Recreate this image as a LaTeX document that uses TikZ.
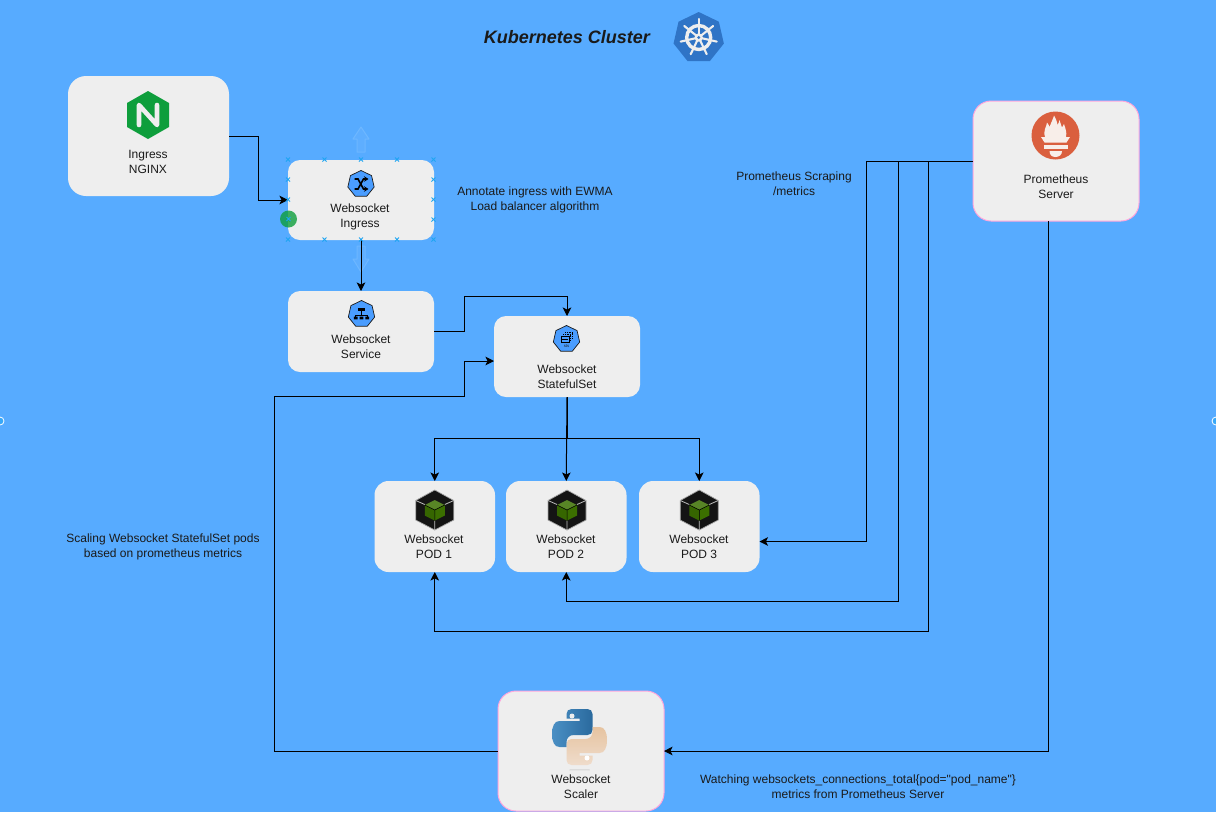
\documentclass[tikz,border=0pt]{standalone}
\usepackage{fontspec}
\setmainfont{Liberation Sans}
\newfontfamily\plainf{Liberation Sans}
\usetikzlibrary{arrows.meta,shapes.geometric,calc}
\definecolor{bgc}{HTML}{57ABFF}
\definecolor{boxc}{HTML}{EEEEEE}
\definecolor{pinkc}{HTML}{FFA6DC}
\definecolor{txtc}{HTML}{1A1A1A}
\definecolor{badge}{HTML}{4A9DFF}
\definecolor{k8sc}{HTML}{2F74C6}
\definecolor{ngx}{HTML}{0E9E3C}
\definecolor{promc}{HTML}{DA5F3E}
\definecolor{promw}{HTML}{F8EEE9}
\definecolor{podg}{HTML}{3B6F00}
\definecolor{handle}{HTML}{1FA5F2}
\definecolor{ghostc}{HTML}{6DB7FF}
\definecolor{pyblueA}{HTML}{4A8FC4}
\definecolor{pyblueB}{HTML}{2A6A9E}
\definecolor{pytanA}{HTML}{E6C3A0}
\definecolor{pytanB}{HTML}{EFDCCB}
\tikzset{
 x=1pt,y=-1pt,
 card/.style={fill=boxc,draw=none,rounded corners=#1,inner sep=0pt,outer sep=0pt},
 card/.default=12pt,
 pinkcard/.style={card=18pt,draw=pinkc,line width=1pt},
 lbl/.style={text=txtc,align=center,inner sep=0pt,font=\fontsize{12}{15}\selectfont},
 conn/.style={draw=black,line width=1pt,-{Stealth[length=8.5pt,width=8.5pt,inset=2pt]}},
 kbadge/.style={regular polygon,regular polygon sides=7,minimum size=27pt,inner sep=0pt,fill=badge,draw=txtc,line width=0.7pt},
 handlemark/.style={draw=handle,line width=0.8pt},
 ghost/.style={fill=bgc!96!white,draw=ghostc,line width=1pt,line join=round},
}
\newcommand{\xmark}[2]{\draw[handlemark] (#1-2,#2-2)--(#1+2,#2+2) (#1-2,#2+2)--(#1+2,#2-2);}
\newcommand{\podicon}[1]{%
 \begin{scope}[shift={(#1,510)}]
 \fill[fill=black!92,draw=black!35,line width=0.7pt] (0,-20)--(19,-9.5)--(19,10)--(0,20)--(-19,10)--(-19,-9.5)--cycle;
 \draw[white!75!black,line width=0.8pt] (-19,-9.5)--(-10,-5.5) (19,-9.5)--(10,-5.5) (0,20)--(0,10.5);
 \fill[podg!85!white] (0,-10)--(10,-5)--(0,0)--(-10,-5)--cycle;
 \fill[podg!92!black] (-10,-5)--(0,0)--(0,10.5)--(-10,5.5)--cycle;
 \fill[podg] (10,-5)--(0,0)--(0,10.5)--(10,5.5)--cycle;
 \draw[black,line width=0.5pt] (-10,-5)--(0,0)--(10,-5) (0,0)--(0,10.5);
 \end{scope}}
\begin{document}
\begin{tikzpicture}
\useasboundingbox (0,0) rectangle (1216,812);
\fill[bgc] (0,0) rectangle (1216,812);
\draw[white,line width=0.8pt,fill=handle!55!bgc] (0,421) circle (4) (1216,421) circle (4);

% ghost arrows
\draw[ghost] (357,152)--(357,139)--(353,139)--(361,127)--(369,139)--(365,139)--(365,152)--cycle;
\draw[ghost] (357,246)--(357,259)--(353,259)--(361,272)--(369,259)--(365,259)--(365,246)--cycle;

% boxes
\node[card=18pt,minimum width=161pt,minimum height=120pt] (nginx) at (148.5,136) {};
\node[card,minimum width=146pt,minimum height=80pt] (ingress) at (361,200) {};
\node[card,minimum width=146pt,minimum height=81pt] (service) at (361,331.5) {};
\node[card,minimum width=146pt,minimum height=81pt] (sts) at (567,356.5) {};
\node[card=14pt,minimum width=120.5pt,minimum height=91pt] (pod1) at (434.75,526.5) {};
\node[card=14pt,minimum width=120.5pt,minimum height=91pt] (pod2) at (566.25,526.5) {};
\node[card=14pt,minimum width=120.5pt,minimum height=91pt] (pod3) at (699.25,526.5) {};
\node[pinkcard,minimum width=166pt,minimum height=120pt] (prom) at (1056,161) {};
\node[pinkcard,minimum width=166pt,minimum height=120pt] (scaler) at (581,751) {};

% anchor points off the box centres
\coordinate (stsin) at (494,361);
\coordinate (pod3in) at (759.5,541.5);
\coordinate (promout) at (1048.5,221);
\coordinate (v1) at (866.5,161);
\coordinate (v2) at (898.5,161);
\coordinate (v3) at (928.5,161);

% connectors
\draw[conn] (nginx.east) -- (258.5,136) -- (258.5,200) -- (ingress.west);
\draw[conn] (ingress.south) -- (service.north);
\draw[conn] (service.east) -- (464,331.5) -- (464,296) -- (567,296) -- (sts.north);
\draw[conn] (sts.south) -- (567,438.5) -- (pod1.north |- 0,438.5) -- (pod1.north);
\draw[conn] (sts.south) -- (pod2.north);
\draw[conn] (sts.south) -- (567,438.5) -- (pod3.north |- 0,438.5) -- (pod3.north);
\draw[conn] (prom.west) -- (v1) -- (866.5,541.5) -- (pod3in);
\draw[conn] (prom.west) -- (v2) -- (898.5,601) -- (566.25,601) -- (pod2.south);
\draw[conn] (prom.west) -- (v3) -- (928.5,631) -- (434.75,631) -- (pod1.south);
\draw[conn] (promout) -- (1048.5,751) -- (scaler.east);
\draw[conn] (scaler.west) -- (274.5,751) -- (274.5,396.5) -- (464,396.5) -- (464,361) -- (stsin);

% ingress selection handles
\foreach \px in {288,324.5,361,397,433.5}{\xmark{\px}{159.5}\xmark{\px}{239.5}}
\foreach \py in {179.5,199.5,219.5}{\xmark{288}{\py}\xmark{433.5}{\py}}
\fill[ngx,opacity=0.8] (288.5,219) circle (8.5);
\xmark{288.5}{219}

% nginx icon
\fill[ngx] (148,91)--(169,103)--(169,127)--(148,139)--(127,127)--(127,103)--cycle;
\draw[boxc,line width=4.6pt,line cap=round,line join=round] (139,125)--(139,105)--(157,125)--(157,105);

% kubernetes logo
\node[regular polygon,regular polygon sides=7,minimum size=51.6pt,inner sep=0pt,fill=k8sc] (k8slogo) at (698.7,37.8) {};
\begin{scope}[shift={(698.7,37.5)}]
 \draw[boxc,line width=3.4pt] (0,0) circle (12);
 \foreach \a in {-90,-38.57,12.86,64.29,115.71,167.14,218.57}{
  \draw[boxc,line width=2.1pt,line cap=round] (0,0)--(\a:18.5);
 }
 \fill[boxc] (0,0) circle (4.2);
 \fill[k8sc] (0,0) circle (1.7);
\end{scope}

% small badges
\node[kbadge] (iconingress) at (361,184) {};
\draw[black,line width=1.6pt,-{Stealth[length=4.5pt,width=5.5pt]}] (354.5,179)--(358,179)--(363.5,189)--(368.5,189);
\draw[black,line width=1.6pt,-{Stealth[length=4.5pt,width=5.5pt]}] (354.5,189)--(358,189)--(363.5,179)--(368.5,179);

\node[kbadge] (iconservice) at (361.5,314) {};
\fill[black] (358,308.3) rectangle (365,311);
\draw[black,line width=0.8pt] (361.5,311)--(361.5,316) (355.5,318)--(355.5,315)--(367.5,315)--(367.5,318);
\fill[black] (353.8,316.7) rectangle (357.6,319.4) (359.7,316.7) rectangle (363.3,319.4) (365.4,316.7) rectangle (369.2,319.4);

\node[kbadge] (iconsts) at (566.5,339) {};
\draw[black,line width=0.7pt] (561,336.5) rectangle (569,342);
\draw[black,line width=0.6pt] (562,339)--(568,339);
\draw[black,line width=0.6pt,dash pattern=on 1pt off 0.8pt] (563,334.5)--(570.5,334.5)--(570.5,340) (565,332.5)--(572.5,332.5)--(572.5,338);
\node[inner sep=0pt,text=txtc,font=\fontsize{4.2}{5}\selectfont] (ststxt) at (566.5,346) {sts};

% pod icons
\podicon{434.75}\podicon{567}\podicon{699.25}

% prometheus icon
\node[circle,fill=promc,minimum size=48pt,inner sep=0pt] (promicon) at (1055.5,135.5) {};
\fill[promw] (1045,137) .. controls (1043,130) and (1046.5,127) .. (1047,122.5) .. controls (1048.5,124) and (1049,126) .. (1049.5,127) .. controls (1051,123) and (1053,119) .. (1054,115.5) .. controls (1055.5,118) and (1057,121) .. (1057.5,125) .. controls (1058.5,123.5) and (1059,122.5) .. (1059.5,120) .. controls (1060.5,123) and (1061,125) .. (1062,127.5) .. controls (1063,126.5) and (1063.5,125.5) .. (1064,124) .. controls (1065.5,129) and (1067,132) .. (1066,137) -- cycle;
\fill[promw] (1041,137)--(1070,137)--(1066.5,142.5)--(1044.5,142.5)--cycle;
\fill[promw] (1044,145) rectangle (1067.5,148.5);
\fill[promw] (1049.5,151) -- (1062,151) .. controls (1062,155) and (1059,157) .. (1055.5,157) .. controls (1052,157) and (1049.5,155) .. (1049.5,151) -- cycle;

% python logo
\begin{scope}[shift={(579.5,737)}]
 \shade[top color=black!14,bottom color=boxc] (-10,32) rectangle (10,34);
 \shade[left color=pyblueA,right color=pyblueB] (-8,-28) -- (8,-28) .. controls (11,-28) and (13,-26) .. (13,-23) -- (13,-7) .. controls (13,-4) and (11,-2) .. (8,-2) -- (-6,-2) .. controls (-10,-2) and (-13,1) .. (-13,5) -- (-13,10) -- (-20,10) .. controls (-25,10) and (-27.5,5) .. (-27.5,-3) .. controls (-27.5,-11) and (-25,-16) .. (-20,-16) -- (0,-16) -- (0,-18.5) -- (-13,-18.5) -- (-13,-23) .. controls (-13,-26) and (-11,-28) .. (-8,-28) -- cycle;
 \shade[top color=pytanA,bottom color=pytanB] (8,28) -- (-8,28) .. controls (-11,28) and (-13,26) .. (-13,23) -- (-13,7) .. controls (-13,4) and (-11,2) .. (-8,2) -- (6,2) .. controls (10,2) and (13,-1) .. (13,-5) -- (13,-10) -- (20,-10) .. controls (25,-10) and (27.5,-5) .. (27.5,3) .. controls (27.5,11) and (25,16) .. (20,16) -- (0,16) -- (0,18.5) -- (13,18.5) -- (13,23) .. controls (13,26) and (11,28) .. (8,28) -- cycle;
 \fill[boxc] (-7.5,-21) circle (2.5);
 \fill[white] (7.5,21) circle (2.5);
\end{scope}

% labels
\node[text=txtc,inner sep=0pt,font=\bfseries\itshape\fontsize{18}{22}\selectfont] (title) at (567,36.6) {Kubernetes Cluster};
\node[lbl] (tnginx) at (148,161.7) {Ingress\\NGINX};
\node[lbl] (tingress) at (360,217.2) {Websocket\\Ingress};
\node[lbl] (tservice) at (361,346.8) {Websocket\\Service};
\node[lbl] (tsts) at (567,376.8) {Websocket\\StatefulSet};
\node[lbl] (tpod1) at (434,546.8) {Websocket\\POD 1};
\node[lbl] (tpod2) at (566,546.8) {Websocket\\POD 2};
\node[lbl] (tpod3) at (699,546.8) {Websocket\\POD 3};
\node[lbl] (tprom) at (1056,186.8) {Prometheus\\Server};
\node[lbl] (tscaler) at (581,786.8) {Websocket\\Scaler};
\node[lbl] (tewma) at (535,200.2) {Annotate ingress with EWMA\\Load balancer algorithm};
\node[lbl] (tscrape) at (794,183.8) {Prometheus Scraping\\/metrics};
\node[lbl] (tscale) at (163,547.2) {Scaling Websocket StatefulSet pods\\based on prometheus metrics};
\node[lbl] (twatch) at (858,786.8) {{\plainf Watching websockets\_connections\_total\{pod="pod\_name"\}}\\metrics from Prometheus Server};
\end{tikzpicture}
\end{document}
